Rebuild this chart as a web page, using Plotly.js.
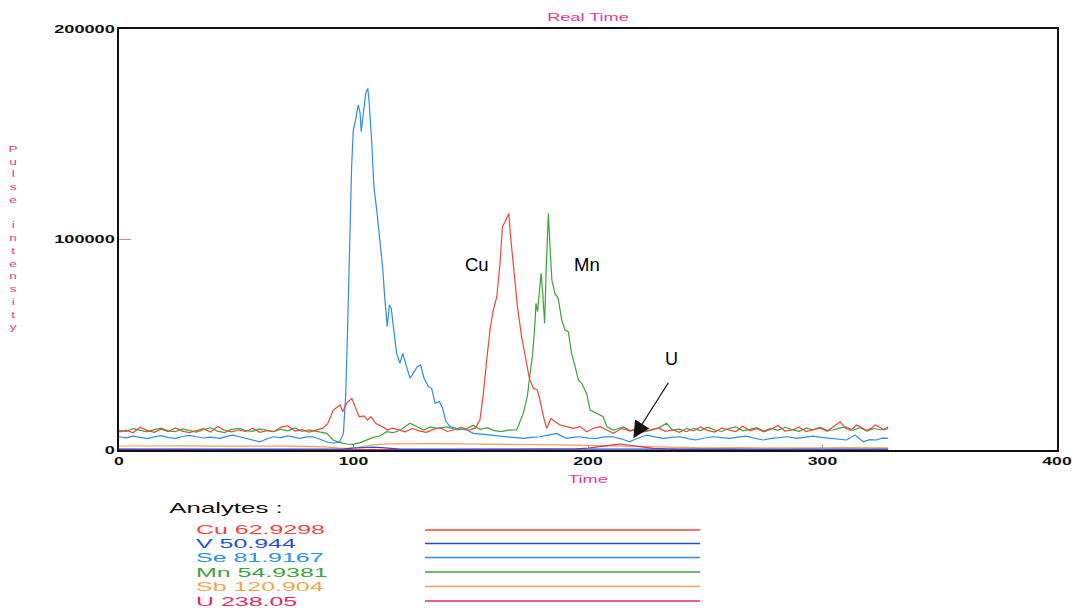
<!DOCTYPE html>
<html><head><meta charset="utf-8">
<script src="https://cdn.plot.ly/plotly-3.0.1.min.js"></script>
<style>
html,body{margin:0;padding:0;background:#fff;}
#chart{width:1077px;height:612px;}
g.xtick{transform-box:fill-box;transform-origin:50% 50%;transform:scaleX(1.6);}
g.ytick{transform-box:fill-box;transform-origin:100% 50%;transform:scaleX(1.65);}
g.g-gtitle,g.g-xtitle{transform-box:fill-box;transform-origin:50% 50%;transform:scaleX(1.58);}
g.annotation[data-index="0"]{transform-box:fill-box;transform-origin:0% 50%;transform:scaleX(1.72);}
g.annotation[data-index="1"],g.annotation[data-index="2"],
g.annotation[data-index="3"],g.annotation[data-index="4"],g.annotation[data-index="5"],
g.annotation[data-index="6"]{transform-box:fill-box;transform-origin:0% 50%;transform:scaleX(1.92);}
g.annotation[data-index="7"]{transform-box:fill-box;transform-origin:50% 50%;transform:scaleX(1.4);}
</style>
</head><body>
<div id="chart"></div>
<script>
// ---- data (time, pulse intensity) ----
const analyteNames = ['Cu 62.9298','V 50.944','Se 81.9167','Mn 54.9381','Sb 120.904','U 238.05'];
const analyteColors = ['#f0453c','#1f4fd6','#2b8fe8','#3aa63a','#f5a352','#e8285e'];
const xTickVals = [0,100,200,300,400];
const yTickVals = [0,100000,200000];
const yTickText = ['0','100000','200000'];

const cuPoints = [[0,8600],[3,9400],[6,8200],[9,10800],[12,9300],[15,8400],[18,9900],[21,8700],[24,10500],[27,9000],[30,8300],[33,9200],[36,10100],[39,8500],[42,11200],[45,9400],[48,8600],[51,9500],[54,8800],[57,10300],[60,8400],[63,9200],[66,8700],[69,10900],[72,11400],[75,9000],[78,9700],[81,8500],[84,9300],[87,10400],[89,12500],[91.4,19000],[94.3,21400],[95.4,18200],[97.1,22300],[99.3,24500],[100.7,20600],[102.4,15800],[104.5,16200],[106,14200],[107.4,15800],[109.5,12700],[112.4,11000],[114.5,9500],[116.6,10400],[119.5,9500],[122,8600],[125,10200],[128,9100],[131,8400],[134,9800],[137,10600],[140,8800],[143,9600],[146,10900],[149,9300],[152,10500],[153.9,14200],[155.4,26900],[156.8,42700],[158.2,57000],[159.6,66500],[161.1,72800],[162.5,88700],[163.5,106000],[164.6,108400],[165.3,110000],[166.2,112400],[167,101300],[168.4,83900],[169.9,68100],[171.7,53800],[173.6,42700],[175,34000],[176.7,29300],[178.4,28500],[179.5,23800],[181,15800],[182.4,10300],[184.2,15000],[185.9,13500],[188,11900],[190.9,11100],[193.7,10300],[196.6,11100],[199.4,8700],[202.3,10300],[205.1,11100],[208,9500],[210.8,7900],[214.4,10300],[218,9000],[221,9800],[224,8600],[227,9400],[230,10500],[233,8900],[236,9600],[239,8400],[242,10200],[245,9100],[248,11000],[251,9300],[254,8500],[257,10400],[260,9700],[263,8800],[266,11300],[269,9200],[272,10100],[275,8600],[278,9900],[281,11600],[284,9000],[287,9500],[290,10800],[293,8700],[296,9600],[299,10400],[302,8900],[305,11200],[307.5,13400],[310,10200],[312,9400],[314.6,11900],[316.5,10600],[318.8,9200],[321,10500],[322.5,11900],[324.5,10800],[326,9600],[328,10300]];

const vPoints = [[0,400],[10,350],[20,450],[30,380],[40,420],[50,360],[60,400],[70,440],[80,370],[90,420],[96,500],[100,900],[104,1300],[108,1400],[112,1100],[116,600],[120,450],[130,380],[140,420],[150,360],[160,400],[170,440],[180,380],[190,420],[200,360],[210,400],[220,430],[230,370],[240,410],[250,380],[260,420],[270,360],[280,400],[290,440],[300,380],[310,410],[320,370],[328,400]];

const sePoints = [[0,6300],[3,5800],[6,6600],[9,6000],[12,5400],[15,6200],[18,6800],[21,5900],[24,5500],[27,6400],[30,6900],[33,6300],[36,5700],[39,6100],[43,5500],[46,6500],[48.6,7100],[51,6400],[54,5600],[57,4800],[60,3900],[63,5200],[65.7,6300],[69,5900],[72,6700],[75,6000],[77,5500],[80,6200],[82.7,6300],[85.5,5200],[88.4,3900],[91.3,3200],[94.1,3900],[95.7,7900],[96.7,26900],[97.5,58600],[98.5,106000],[99.2,134600],[99.9,152000],[100.9,156800],[102,163900],[102.8,160000],[103.3,151200],[104.2,161500],[105.2,169400],[106.1,171800],[106.7,164700],[107.8,145700],[108.7,125100],[109.9,114000],[111.3,99800],[112.4,87100],[113.4,71300],[114.4,58600],[115.3,68900],[116.1,67300],[117,58600],[118.4,45900],[119.8,41200],[121,45900],[122.4,40400],[124.1,34100],[125.5,36400],[127.2,39600],[128.6,40400],[130.1,34100],[131.9,30100],[133.3,29300],[134.8,22200],[136.6,23000],[138,19800],[139.4,13500],[141.2,11100],[144,10300],[148.3,9500],[151.1,7900],[154.5,7500],[158.2,7100],[161.5,6700],[165.3,6300],[168.8,5900],[172.4,5500],[176,6000],[179.5,6300],[183,7100],[186.6,7900],[188.8,6600],[190.9,5500],[193.7,6000],[196.6,6300],[200,5600],[203.7,5500],[207,6200],[210.8,6300],[214.4,5200],[217.9,3900],[219.3,4750],[222,5900],[225,7100],[228.5,6200],[232,5500],[235.6,6000],[239.2,6300],[242.6,5400],[246,4750],[249.7,5700],[253.4,6300],[257,5900],[260.5,5500],[264,6100],[267.6,6600],[271,5600],[274.7,4750],[278.3,5500],[281.8,6000],[285.3,6300],[288.9,5500],[292.4,6100],[296,6600],[299.6,6000],[303.1,5500],[306.6,5300],[310.2,4750],[313.9,7100],[317.4,3900],[320,4900],[323,4750],[325.5,5600],[328,5500]];

const mnPoints = [[0,9200],[3,8800],[6,10100],[9,9400],[12,8600],[15,9700],[18,10400],[21,9100],[24,8700],[27,10000],[30,9300],[33,8500],[36,9600],[39,10600],[42,9000],[45,8300],[48,9800],[51,10300],[54,9200],[57,8900],[60,10000],[63,9400],[66,8700],[69,9900],[72,9100],[75,10500],[78,8800],[81,9600],[84,8900],[86,8400],[88.6,7900],[91.4,4750],[94.2,3500],[97.1,2850],[99.9,2700],[102.8,3500],[105.6,4750],[108.4,6000],[111.3,6650],[114.2,8700],[117,8200],[120,9500],[124.1,12700],[127,11000],[129.9,9500],[132.8,11000],[135.6,10300],[139.9,11000],[144.1,9500],[148.4,10300],[151,11800],[154,9800],[157,10600],[160,9200],[163,8700],[166,9400],[169.6,9500],[171,13500],[172.4,17400],[174.1,25300],[175.3,34800],[176.4,45900],[177.4,60200],[177.8,69700],[178.5,65700],[179.2,76000],[180,83900],[180.7,74400],[181.5,60200],[182.2,87100],[183.1,112400],[183.8,96600],[184.6,80700],[185.9,74400],[187.3,72000],[188.8,61700],[190.2,57000],[191.6,56200],[193,45900],[194.5,39600],[195.9,33300],[197.3,31700],[199.4,26900],[200.9,19000],[203.7,17400],[206.5,15800],[208,11100],[210.8,9500],[213,10200],[215,11000],[218,9200],[221,10100],[224,8900],[227,9700],[230,10400],[233.5,12700],[236,9400],[239,9900],[242,8700],[245,10300],[248,9200],[251,10800],[254,9500],[257,8800],[260,10200],[263,11000],[266,9100],[269,9800],[272,10600],[275,9000],[278,10300],[281,9300],[284,10800],[287,9700],[290,8900],[293,10400],[296,9600],[299,10900],[302,9300],[304.5,9500],[307,10400],[310,11000],[313,9400],[316,10600],[319,9000],[322,10200],[325,9500],[328,10800]];

const sbPoints = [[0,1900],[10,2000],[20,1850],[30,1950],[40,1800],[50,1900],[60,2000],[70,1850],[80,1700],[88,1500],[94,900],[98,800],[102,1300],[108,2400],[115,2900],[125,3100],[135,3000],[145,2900],[155,2700],[165,2600],[175,2500],[185,2400],[195,2300],[205,2000],[215,1700],[225,1400],[235,1200],[250,1000],[265,1100],[280,900],[295,1000],[310,1100],[328,1000]];

const uPoints = [[0,250],[20,200],[40,250],[60,200],[80,250],[100,300],[120,250],[140,200],[160,250],[180,300],[195,500],[200,900],[203.7,1300],[207,1900],[210.8,2400],[213.7,2850],[217,2400],[220.8,1900],[224,1300],[227.9,800],[233,500],[239,300],[260,250],[280,200],[300,250],[328,200]];

const seriesPoints = [cuPoints, vPoints, sePoints, mnPoints, sbPoints, uPoints];
const drawOrder = [4, 5, 1, 2, 3, 0];

const FONT = 'Liberation Sans, Arial, sans-serif';
const MAGENTA = '#e8389a';

const traces = drawOrder.map(function(i){
  const pts = seriesPoints[i];
  return {
    type: 'scatter', mode: 'lines', name: analyteNames[i],
    x: pts.map(function(p){return p[0];}),
    y: pts.map(function(p){return p[1];}),
    line: {color: analyteColors[i], width: 1.2},
    showlegend: false, hoverinfo: 'skip'
  };
});

// legend block (paper coordinates)
const legendRowY = [-0.190, -0.2221, -0.2553, -0.2898, -0.3242, -0.3587];
const annotations = [];
const shapes = [];
annotations.push({xref:'paper', yref:'paper', x:0.0522, y:-0.1354, xanchor:'left', yanchor:'middle', align:'left',
  text:'Analytes :', showarrow:false, borderpad:0, font:{family:FONT, size:15, color:'#111'}});
analyteNames.forEach(function(n, i){
  annotations.push({xref:'paper', yref:'paper', x:0.0821, y:legendRowY[i], xanchor:'left', yanchor:'middle', align:'left',
    text:n, showarrow:false, borderpad:0, borderwidth:0, font:{family:FONT, size:13, color:analyteColors[i]}});
  shapes.push({type:'line', xref:'paper', yref:'paper', x0:0.3262, x1:0.6194, y0:legendRowY[i], y1:legendRowY[i],
    line:{color:analyteColors[i], width:1.3}});
});
// vertical stacked y-axis title
annotations.push({xref:'paper', yref:'paper', x:-0.112, y:0.505, xanchor:'center', yanchor:'middle',
  text:'P<br>u<br>l<br>s<br>e<br><br>i<br>n<br>t<br>e<br>n<br>s<br>i<br>t<br>y', showarrow:false,
  font:{family:FONT, size:9.8, color:MAGENTA}});
// peak labels
annotations.push({x:152.5, y:88300, text:'Cu', showarrow:false, font:{family:FONT, size:18.5, color:'#000'}});
annotations.push({x:199.4, y:88300, text:'Mn', showarrow:false, font:{family:FONT, size:18.5, color:'#000'}});
annotations.push({x:235.6, y:43200, text:'U', showarrow:false, font:{family:FONT, size:18, color:'#000'}});
annotations.push({x:219.3, y:5600, text:'', showarrow:true, ax:36, ay:-57, arrowhead:2, arrowsize:2.8, arrowwidth:1.2, arrowcolor:'#111'});

const layout = {
  width: 1077, height: 612,
  margin: {l:119, r:20, t:29, b:162, pad:0},
  paper_bgcolor: '#fff', plot_bgcolor: '#fff',
  showlegend: false,
  title: {text:'Real Time', font:{family:FONT, size:11.5, color:MAGENTA}, x:0.5, xref:'paper', xanchor:'center', y:0.972, yref:'container', yanchor:'middle'},
  xaxis: {range:[0,400], tickvals:xTickVals, ticks:'inside', ticklen:5, tickcolor:'#7a8ac0', tickwidth:1,
    showgrid:false, zeroline:false, showline:true, linecolor:'#111', linewidth:2, mirror:true,
    tickfont:{family:FONT, size:11, color:'#111', weight:'bold'},
    title:{text:'Time', font:{family:FONT, size:11.5, color:MAGENTA}, standoff:9}},
  yaxis: {range:[0,200000], tickvals:yTickVals, ticktext:yTickText, ticks:'inside', ticklen:12, tickcolor:'#d08a8a', tickwidth:1,
    showgrid:false, zeroline:false, showline:true, linecolor:'#111', linewidth:2, mirror:true,
    tickfont:{family:FONT, size:11, color:'#111', weight:'bold'}},
  annotations: annotations,
  shapes: shapes
};

Plotly.newPlot('chart', traces, layout, {staticPlot:true, displayModeBar:false});
</script>
</body></html>
